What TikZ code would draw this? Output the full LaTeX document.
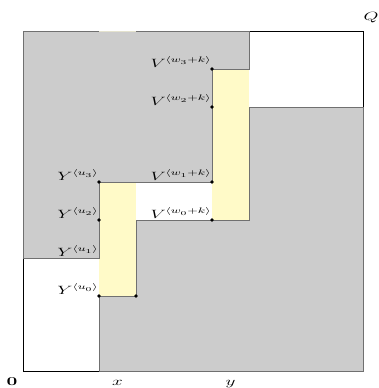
\documentclass[tikz,border=0pt]{standalone}
\definecolor{regfill}{RGB}{204,204,204}
\definecolor{regline}{RGB}{112,112,112}
\definecolor{stripfill}{RGB}{255,250,200}
\definecolor{topseg}{RGB}{228,226,206}
\newcommand\wx[1]{\scalebox{1.6}[1]{#1}}
\begin{document}
\begin{tikzpicture}[x=1pt,y=-1pt,
  lab/.style={inner xsep=0.3pt, inner ysep=1.5pt, font=\fontsize{11.5}{13}\selectfont},
  dot/.style={circle, fill=black, inner sep=0pt, minimum size=3.6pt},
  region/.style={fill=regfill, draw=regline, line width=0.8pt, line join=miter},
  strip/.style={fill=stripfill}]
\useasboundingbox (0,0) rectangle (379,388);
% outer square
\draw[black, line width=0.8pt] (23,31) rectangle (363,371);
% yellow strips
\fill[strip] (99,182) rectangle (136,296);
\fill[strip] (212,69) rectangle (249,220);
% gray regions
\draw[region] (23,31) -- (249,31) -- (249,69) -- (212,69) -- (212,182) -- (99,182) -- (99,258) -- (23,258) -- cycle;
\draw[region] (363,107) -- (249,107) -- (249,220) -- (136,220) -- (136,296) -- (99,296) -- (99,371) -- (363,371) -- cycle;
\draw[topseg, line width=0.8pt] (99,31) -- (136,31);
% dots
\node[dot] (a3) at (99,182) {};
\node[dot] (a2) at (99,220) {};
\coordinate (a1) at (99,258);
\node[dot] (a0) at (99,296) {};
\node[dot] (b0) at (136,296) {};
\node[dot] (c3) at (212,69) {};
\node[dot] (c2) at (212,107) {};
\node[dot] (c1) at (212,182) {};
\node[dot] (c0) at (212,220) {};
% labels
\node[lab, anchor=south east] (yu3) at (a3.center) {\wx{$Y^{\langle u_3\rangle}$}};
\node[lab, anchor=south east] (yu2) at (a2.center) {\wx{$Y^{\langle u_2\rangle}$}};
\node[lab, anchor=south east] (yu1) at (a1) {\wx{$Y^{\langle u_1\rangle}$}};
\node[lab, anchor=south east] (yu0) at (a0.center) {\wx{$Y^{\langle u_0\rangle}$}};
\node[lab, anchor=south east] (vw3) at (c3.center) {\wx{$V^{\langle w_3+k\rangle}$}};
\node[lab, anchor=south east] (vw2) at (c2.center) {\wx{$V^{\langle w_2+k\rangle}$}};
\node[lab, anchor=south east] (vw1) at (c1.center) {\wx{$V^{\langle w_1+k\rangle}$}};
\node[lab, anchor=south east] (vw0) at (c0.center) {\wx{$V^{\langle w_0+k\rangle}$}};
\node[lab, anchor=north, inner sep=1pt] (lx) at (117.5,379) {\wx{$x$}};
\node[lab, anchor=north, inner sep=1pt] (ly) at (230.5,379) {\wx{$y$}};
\node[lab, inner sep=0pt] (l0) at (12,382) {\wx{$\mathbf{0}$}};
\node[lab, inner sep=0pt] (lq) at (371,18) {\wx{$Q$}};
\end{tikzpicture}
\end{document}
